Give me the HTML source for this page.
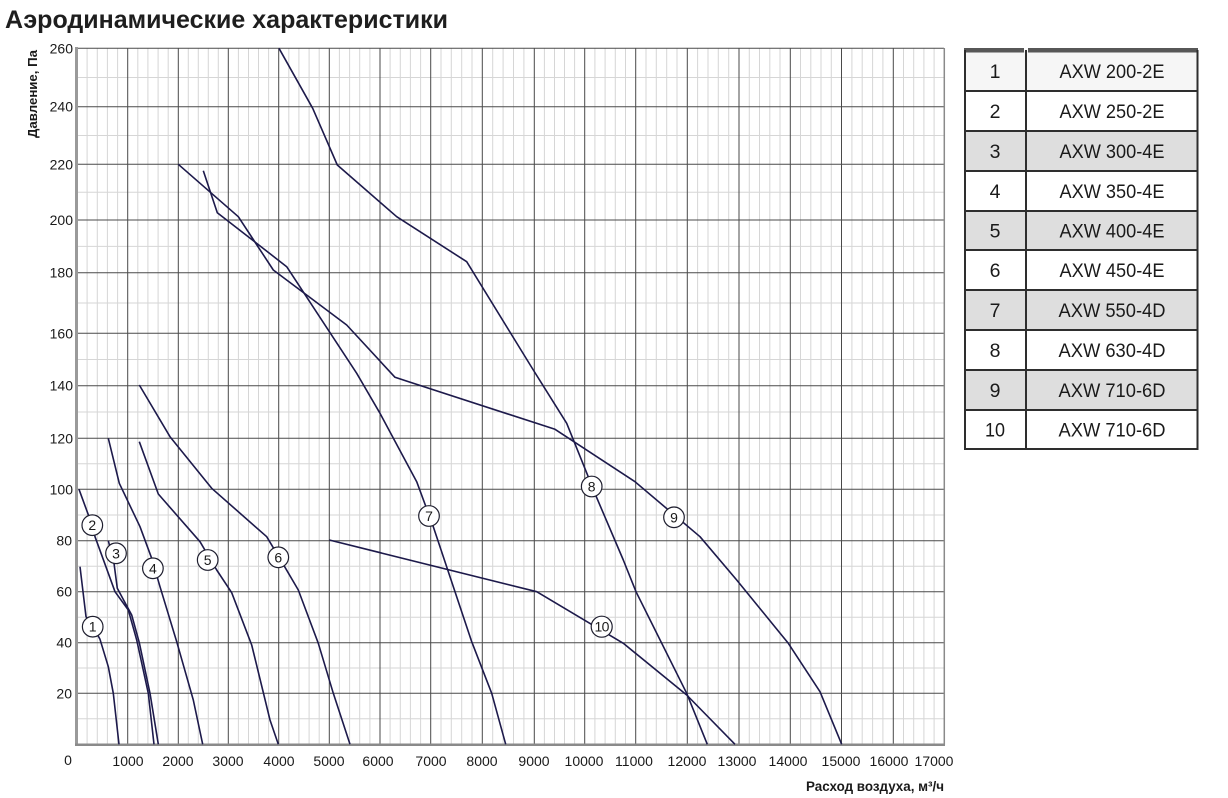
<!DOCTYPE html>
<html>
<head>
<meta charset="utf-8">
<style>
  html,body{margin:0;padding:0;background:#fff;}
  svg{display:block;}
  text{font-family:"Liberation Sans", "DejaVu Sans", sans-serif;}
</style>
</head>
<body>
<svg width="1228" height="798" viewBox="0 0 1228 798" xmlns="http://www.w3.org/2000/svg">
  <rect x="0" y="0" width="1228" height="798" fill="#fff"/>

  <!-- Title -->
  <text x="5" y="28" font-size="25" font-weight="bold" fill="#1e1e1e" textLength="443" lengthAdjust="spacingAndGlyphs">Аэродинамические характеристики</text>

  <!-- minor vertical grid -->
  <path stroke="#d6d6d6" stroke-width="1" fill="none" d="
  M87.1 48V744 M97.3 48V744 M107.4 48V744 M117.6 48V744
  M137.8 48V744 M147.9 48V744 M158.1 48V744 M168.2 48V744
  M188.3 48V744 M198.3 48V744 M208.3 48V744 M218.3 48V744
  M238.4 48V744 M248.5 48V744 M258.5 48V744 M268.6 48V744
  M288.8 48V744 M298.9 48V744 M309.1 48V744 M319.2 48V744
  M339.4 48V744 M349.6 48V744 M359.7 48V744 M369.9 48V744
  M390.1 48V744 M400.3 48V744 M410.4 48V744 M420.6 48V744
  M441 48V744 M451.3 48V744 M461.7 48V744 M472 48V744
  M492.7 48V744 M503.1 48V744 M513.5 48V744 M523.9 48V744
  M544.4 48V744 M554.5 48V744 M564.5 48V744 M574.6 48V744
  M594.9 48V744 M605.1 48V744 M615.3 48V744 M625.5 48V744
  M646 48V744 M656.3 48V744 M666.7 48V744 M677 48V744
  M697.6 48V744 M708 48V744 M718.3 48V744 M728.7 48V744
  M749.3 48V744 M759.5 48V744 M769.8 48V744 M780 48V744
  M800.5 48V744 M810.8 48V744 M821 48V744 M831.3 48V744
  M851.9 48V744 M862.2 48V744 M872.6 48V744 M882.9 48V744
  M903.5 48V744 M913.7 48V744 M923.9 48V744 M934.1 48V744
  "/>
  <!-- minor horizontal grid -->
  <path stroke="#d6d6d6" stroke-width="1" fill="none" d="
  M77 718.8H944 M77 668H944 M77 617.2H944 M77 566.2H944 M77 515H944
  M77 463.8H944 M77 412H944 M77 359.5H944 M77 303H944 M77 246.4H944
  M77 192.2H944 M77 135.5H944 M77 77.5H944
  "/>
  <!-- major vertical grid -->
  <path stroke="#4a4a4a" stroke-width="1" fill="none" d="
  M127.7 48V744 M178.3 48V744 M228.3 48V744 M278.7 48V744 M329.3 48V744
  M380 48V744 M430.7 48V744 M482.3 48V744 M534.3 48V744 M584.7 48V744
  M635.7 48V744 M687.3 48V744 M739 48V744 M790.3 48V744 M841.5 48V744
  M893.3 48V744
  "/>
  <!-- major horizontal grid -->
  <path stroke="#4a4a4a" stroke-width="1" fill="none" d="
  M77 48.3H944 M77 106.7H944 M77 164.3H944 M77 220H944 M77 272.7H944
  M77 333.3H944 M77 385.7H944 M77 438.3H944 M77 489.3H944 M77 540.7H944
  M77 591.7H944 M77 642.7H944 M77 693.3H944
  "/>
  <!-- frame / axes -->
  <line x1="944.3" y1="48" x2="944.3" y2="745" stroke="#8a8a8a" stroke-width="1.5"/>
  <line x1="76.5" y1="47" x2="76.5" y2="746" stroke="#9a9a9a" stroke-width="3"/>
  <line x1="75" y1="744.8" x2="945" y2="744.8" stroke="#8a8a8a" stroke-width="2.5"/>

  <!-- curves -->
  <g fill="none" stroke="#1d1a4b" stroke-width="1.6" stroke-linejoin="round">
    <polyline points="80,566.7 86,616.7 93.3,627 100,639.3 108.3,666.7 113.3,693.3 119,744.3"/>
    <polyline points="79,489.3 92.3,525.7 95,536.7 115,591.7 128.3,610 136.7,640 148.3,693.3 154,744.3"/>
    <polyline points="108.3,540.7 114,563.3 117.3,588.3 131.7,615 139.3,642.7 150,693.3 158.3,744.3"/>
    <polyline points="108.3,438.3 119.3,483.3 140,526.7 151.7,558.3 160,586.7 176.7,641.7 193.3,700 202.7,744.3"/>
    <polyline points="139.3,441.7 158.3,494 200,541.7 216.7,570 231.7,592.7 251.7,645 270,720 278.3,744.3"/>
    <polyline points="139.3,385 170,436.7 211.7,488.3 266.7,536.7 285,567.3 298.3,590 318.3,643.3 333.3,693.3 350,744.3"/>
    <polyline points="203.3,170.7 217.3,212.7 286.7,266.7 356.7,373.3 380,413.3 416.7,481.7 433.3,526.7 466.7,626.7 471.7,641.7 491.7,693.3 505.7,744.3"/>
    <polyline points="279,48.3 312.7,108.3 337.3,165 396.7,216.7 466.7,261.7 533.3,370 566.7,423.3 596.3,496.7 623.3,560 636,591.7 686.7,693.3 707.3,744.3"/>
    <polyline points="178.3,164.3 238.3,216.7 273.3,270 346.7,325 395,377.3 555,429.3 635,481.7 700,536.7 736.7,580 788.3,643.3 820,691.7 841.7,744.3"/>
    <polyline points="329.3,540 536.7,591.7 623.3,643.3 686.7,695 735,744.3"/>
  </g>

  <!-- curve labels -->
  <g fill="#fff" stroke="#1f1f2f" stroke-width="1.2">
    <circle cx="92.7" cy="626.7" r="10.3"/>
    <circle cx="92.3" cy="525.2" r="10.3"/>
    <circle cx="116" cy="553.3" r="10.3"/>
    <circle cx="152.9" cy="568.3" r="10.3"/>
    <circle cx="207.7" cy="560" r="10.3"/>
    <circle cx="278.3" cy="557.3" r="10.3"/>
    <circle cx="429" cy="516" r="10.3"/>
    <circle cx="591.7" cy="486.5" r="10.3"/>
    <circle cx="674" cy="517.3" r="10.3"/>
    <circle cx="601.7" cy="626.7" r="10.5"/>
  </g>
  <g font-size="14" fill="#1a1a1a" text-anchor="middle">
    <text x="92.7" y="631.7">1</text>
    <text x="92.3" y="530.2">2</text>
    <text x="116" y="558.3">3</text>
    <text x="152.9" y="573.3">4</text>
    <text x="207.7" y="565">5</text>
    <text x="278.3" y="562.3">6</text>
    <text x="429" y="521">7</text>
    <text x="591.7" y="491.5">8</text>
    <text x="674" y="522.3">9</text>
    <text x="601.7" y="631.7" letter-spacing="-0.6">10</text>
  </g>

  <!-- y tick labels -->
  <g font-size="14" fill="#1a1a1a" text-anchor="end">
    <text x="73" y="53.3">260</text>
    <text x="73" y="111.7">240</text>
    <text x="73" y="169.3">220</text>
    <text x="73" y="225">200</text>
    <text x="73" y="277.7">180</text>
    <text x="73" y="338.3">160</text>
    <text x="73" y="390.7">140</text>
    <text x="73" y="443.3">120</text>
    <text x="73" y="494.3">100</text>
    <text x="72" y="545.7">80</text>
    <text x="72" y="596.7">60</text>
    <text x="72" y="647.7">40</text>
    <text x="72" y="698.3">20</text>
  </g>
  <!-- x tick labels -->
  <g font-size="14" fill="#1a1a1a" text-anchor="middle">
    <text x="68" y="765">0</text>
    <text x="128" y="766">1000</text>
    <text x="178" y="766">2000</text>
    <text x="228" y="766">3000</text>
    <text x="279" y="766">4000</text>
    <text x="329" y="766">5000</text>
    <text x="378" y="766">6000</text>
    <text x="431" y="766">7000</text>
    <text x="482" y="766">8000</text>
    <text x="534" y="766">9000</text>
    <text x="584" y="766">10000</text>
    <text x="634" y="766">11000</text>
    <text x="687" y="766">12000</text>
    <text x="737" y="766">13000</text>
    <text x="788" y="766">14000</text>
    <text x="841" y="766">15000</text>
    <text x="889" y="766">16000</text>
    <text x="934" y="766">17000</text>
  </g>

  <!-- axis titles -->
  <text transform="translate(37,94) rotate(-90)" font-size="13" font-weight="bold" fill="#1a1a1a" text-anchor="middle" textLength="88" lengthAdjust="spacingAndGlyphs">Давление, Па</text>
  <text x="944" y="791" font-size="13.5" font-weight="bold" fill="#1a1a1a" text-anchor="end" textLength="138" lengthAdjust="spacingAndGlyphs">Расход воздуха, м³/ч</text>

  <!-- Legend table -->
  <g>
    <rect x="964" y="51" width="234" height="40" fill="#f6f6f6"/>
    <rect x="964" y="131" width="234" height="40" fill="#dedede"/>
    <rect x="964" y="211" width="234" height="39" fill="#dedede"/>
    <rect x="964" y="290" width="234" height="40" fill="#dedede"/>
    <rect x="964" y="370" width="234" height="40" fill="#dedede"/>
    <!-- top bar -->
    <rect x="964" y="48" width="60" height="4.5" fill="#575757"/>
    <rect x="1028" y="48" width="170" height="4.5" fill="#575757"/>
    <path stroke="#2e2e2e" stroke-width="2" fill="none" d="
      M965 50V450 M1026 50V450 M1197.5 50V450
      M964 91H1198 M964 131H1198 M964 171H1198 M964 211H1198 M964 250H1198
      M964 290H1198 M964 330H1198 M964 370H1198 M964 410H1198 M964 449H1198"/>
    <g font-size="19.5" fill="#1a1a1a" text-anchor="middle">
      <text x="995" y="78">1</text>
      <text x="995" y="118">2</text>
      <text x="995" y="158">3</text>
      <text x="995" y="198">4</text>
      <text x="995" y="237.5">5</text>
      <text x="995" y="277">6</text>
      <text x="995" y="317">7</text>
      <text x="995" y="357">8</text>
      <text x="995" y="397">9</text>
      <text x="995" y="436.5" textLength="20" lengthAdjust="spacingAndGlyphs">10</text>
      <text x="1112" y="78" textLength="105" lengthAdjust="spacingAndGlyphs">AXW 200-2E</text>
      <text x="1112" y="118" textLength="105" lengthAdjust="spacingAndGlyphs">AXW 250-2E</text>
      <text x="1112" y="158" textLength="105" lengthAdjust="spacingAndGlyphs">AXW 300-4E</text>
      <text x="1112" y="198" textLength="105" lengthAdjust="spacingAndGlyphs">AXW 350-4E</text>
      <text x="1112" y="237.5" textLength="105" lengthAdjust="spacingAndGlyphs">AXW 400-4E</text>
      <text x="1112" y="277" textLength="105" lengthAdjust="spacingAndGlyphs">AXW 450-4E</text>
      <text x="1112" y="317" textLength="107" lengthAdjust="spacingAndGlyphs">AXW 550-4D</text>
      <text x="1112" y="357" textLength="107" lengthAdjust="spacingAndGlyphs">AXW 630-4D</text>
      <text x="1112" y="397" textLength="107" lengthAdjust="spacingAndGlyphs">AXW 710-6D</text>
      <text x="1112" y="436.5" textLength="107" lengthAdjust="spacingAndGlyphs">AXW 710-6D</text>
    </g>
  </g>
</svg>
</body>
</html>
